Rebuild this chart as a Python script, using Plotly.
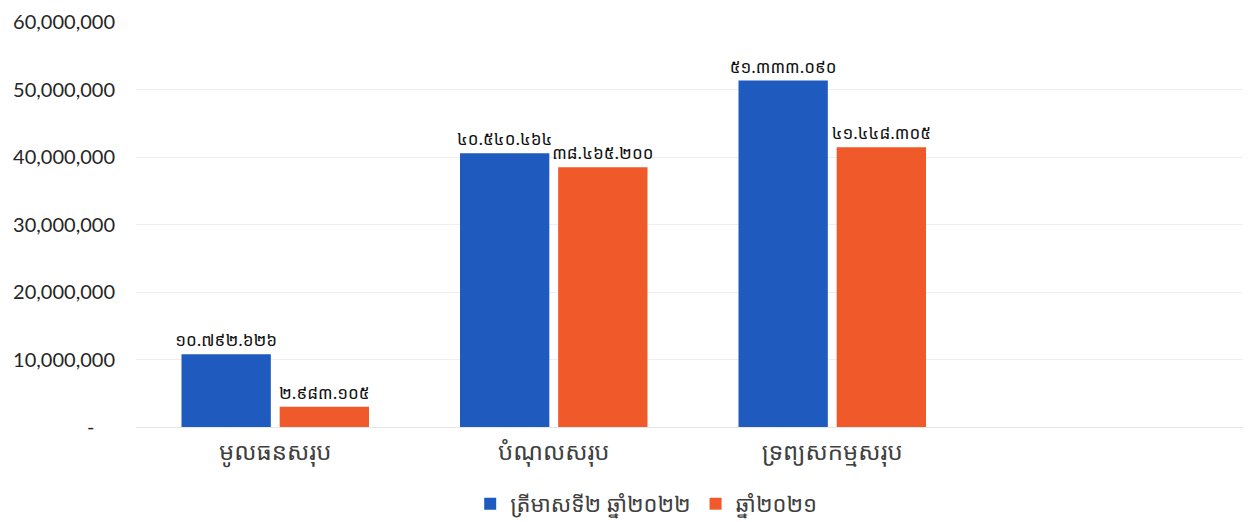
import plotly.graph_objects as go

categories = ["មូលធនសរុប", "បំណុលសរុប", "ទ្រព្យសកម្មសរុប"]
series_names = ["ត្រីមាសទី២ ឆ្នាំ២០២២", "ឆ្នាំ២០២១"]
q2_2022 = [10792626, 40540464, 51333090]
y2021 = [2983105, 38465200, 41448305]
y_tickvals = [0, 10000000, 20000000, 30000000, 40000000, 50000000, 60000000]
y_ticktext = ["-\u00a0\u00a0\u00a0\u00a0", "10,000,000", "20,000,000", "30,000,000",
              "40,000,000", "50,000,000", "60,000,000"]
colors = ["#1F5BBF", "#F0592A"]

KHMER_DIGITS = "០១២៣៤៥៦៧៨៩"


def khmer_label(v):
    s = f"{v:,}".replace(",", ".")
    return "".join(KHMER_DIGITS[int(c)] if c.isdigit() else c for c in s)


FONT = "Noto Sans Khmer, Khmer OS, Khmer OS System, Noto Sans, sans-serif"

fig = go.Figure()
for name, vals, col in zip(series_names, [q2_2022, y2021], colors):
    fig.add_trace(go.Bar(
        x=categories, y=vals, name=name,
        marker=dict(color=col, line=dict(width=0)),
        text=[khmer_label(v) for v in vals],
        textposition="outside",
        constraintext="none",
        textfont=dict(family=FONT, size=17, color="#111111"),
        cliponaxis=False,
    ))

fig.update_layout(
    width=1251, height=522,
    margin=dict(l=128, r=9, t=14, b=103, autoexpand=False),
    paper_bgcolor="white", plot_bgcolor="white",
    barmode="group", bargap=0.295, bargroupgap=0.09,
    font=dict(family=FONT, color="#404040"),
    showlegend=True,
    legend=dict(orientation="h", x=0.458, xanchor="center",
                yref="container", y=0.05, yanchor="middle",
                font=dict(family=FONT, size=22, color="#404040"),
                itemwidth=30, traceorder="normal"),
)
fig.update_xaxes(
    type="category", range=[-0.5, 3.5],
    showline=False, showgrid=False, ticks="",
    tickfont=dict(family=FONT, size=24, color="#404040"),
    ticklabelstandoff=8,
)
fig.update_yaxes(
    range=[0, 60000000], tickvals=y_tickvals, ticktext=y_ticktext,
    showgrid=True, gridcolor="#EFEFEF", gridwidth=1,
    zeroline=True, zerolinecolor="#E6E6E6", zerolinewidth=1,
    showline=False, ticks="",
    tickfont=dict(family="Lato, Open Sans, sans-serif", size=20, color="#262626"),
    ticklabelstandoff=20,
)

fig.write_html("out.html")
